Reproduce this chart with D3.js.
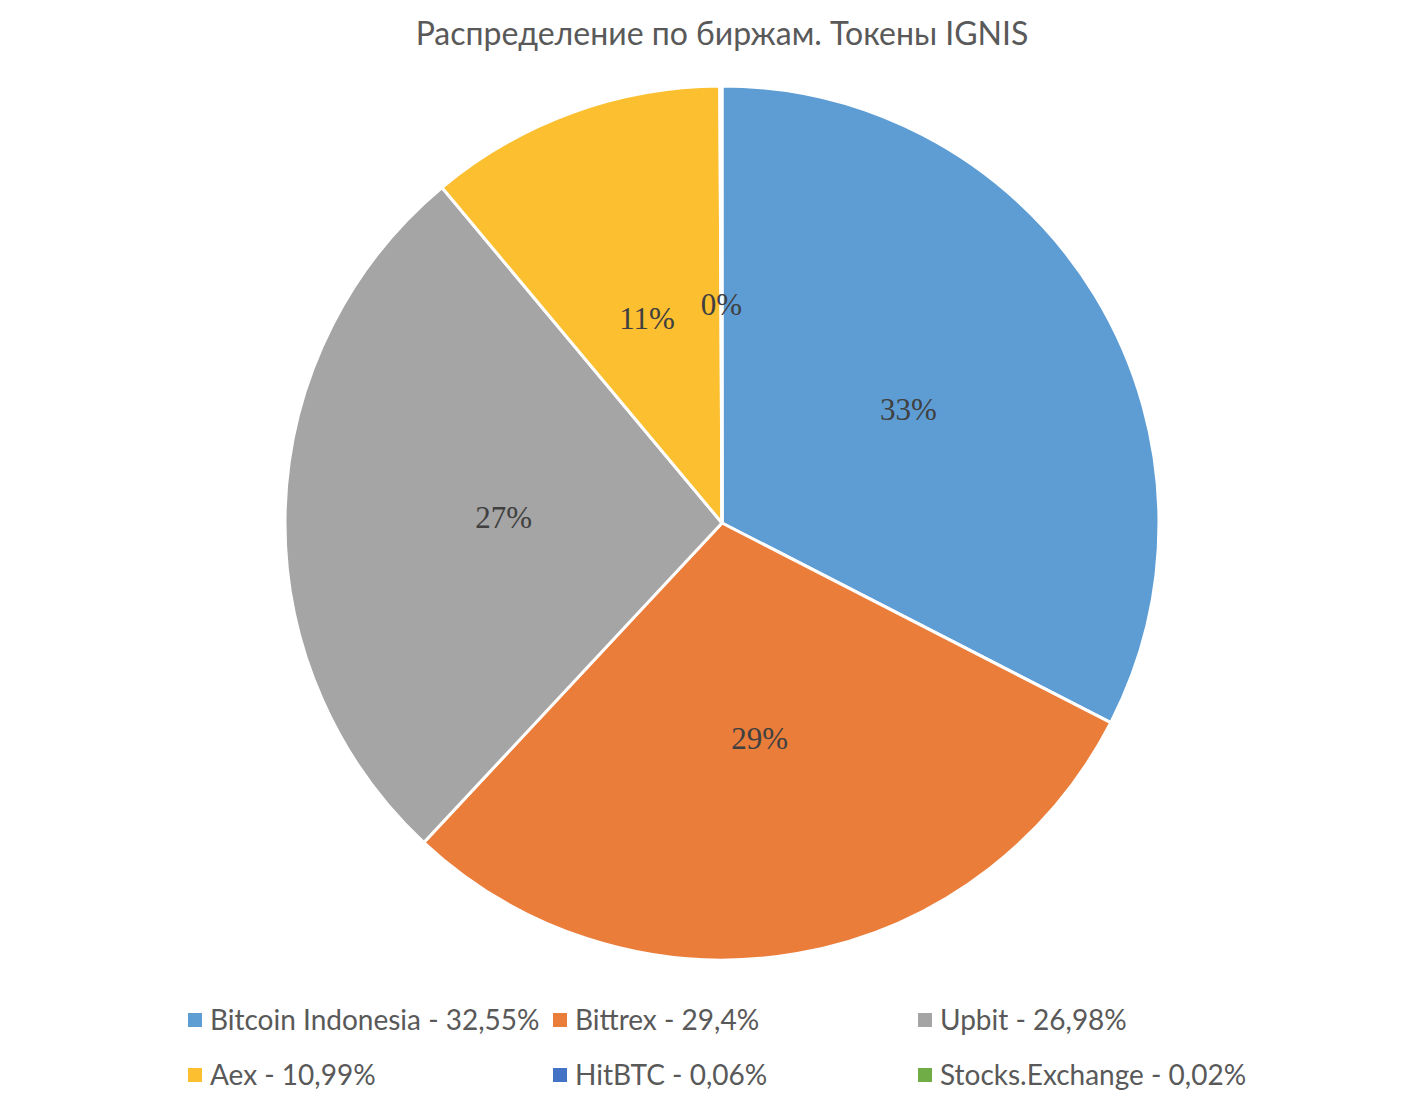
<!DOCTYPE html>
<html lang="ru">
  <head>
    <meta charset="utf-8">
    <title>IGNIS</title>
    <script src="https://cdn.jsdelivr.net/npm/d3@7"></script>
    <style>
      body { margin: 0; background: #fff; }
    </style>
  </head>
  <body>
    <script>
      var w = 1422;
      var h = 1104;
      var cx = 722, cy = 523, radius = 437;

      var titleText = "Распределение по биржам. Токены IGNIS";
      var exchanges = ["Bitcoin Indonesia", "Bittrex", "Upbit", "Aex", "HitBTC", "Stocks.Exchange"];
      var shares = [32.55, 29.4, 26.98, 10.99, 0.06, 0.02];
      var legendLabels = ["Bitcoin Indonesia - 32,55%", "Bittrex - 29,4%", "Upbit - 26,98%",
                          "Aex - 10,99%", "HitBTC - 0,06%", "Stocks.Exchange - 0,02%"];
      var colors = ["#5d9dd4", "#eb7d3b", "#a5a5a5", "#fbbf2f", "#4472c4", "#70ad47"];

      var dataset = exchanges.map(function (d, i) {
        return { name: d, value: shares[i], legend: legendLabels[i], color: colors[i] };
      });

      var svg = d3.select("body")
                  .append("svg")
                  .attr("width", w)
                  .attr("height", h);

      svg.append("text")
         .attr("x", cx)
         .attr("y", 45)
         .attr("text-anchor", "middle")
         .attr("font-family", "Lato, 'Open Sans', sans-serif")
         .attr("font-size", "32px")
         .attr("fill", "#595959")
         .text(titleText);

      var pie = d3.pie()
                  .sort(null)
                  .value(function (d) { return d.value; });

      var arc = d3.arc()
                  .innerRadius(0)
                  .outerRadius(radius);

      var labelArc = d3.arc()
                       .innerRadius(radius * 0.5)
                       .outerRadius(radius * 0.5);

      var g = svg.append("g")
                 .attr("transform", "translate(" + cx + "," + cy + ")");

      var arcs = pie(dataset);

      g.selectAll("path")
       .data(arcs)
       .enter()
       .append("path")
       .attr("d", arc)
       .attr("fill", function (d) { return d.data.color; })
       .attr("stroke", "#fff")
       .attr("stroke-width", 3)
       .attr("stroke-linejoin", "round");

      // the two tiny slices put their labels on the same spot, keep just one
      var shown = arcs.filter(function (d, i) {
        if (i === 0) return true;
        var a = labelArc.centroid(d), b = labelArc.centroid(arcs[i - 1]);
        return Math.abs(a[0] - b[0]) > 4 || Math.abs(a[1] - b[1]) > 4;
      });

      g.selectAll("text.pct")
       .data(shown)
       .enter()
       .append("text")
       .attr("class", "pct")
       .attr("transform", function (d) { return "translate(" + labelArc.centroid(d) + ")"; })
       .attr("text-anchor", "middle")
       .attr("dy", "0.35em")
       .attr("font-family", "'Liberation Serif', 'DejaVu Serif', serif")
       .attr("font-size", "31px")
       .attr("fill", "#404040")
       .text(function (d) { return Math.round(d.data.value) + "%"; });

      // legend, 3 columns x 2 rows
      var colX = [188, 553, 918];
      var rowY = [1020, 1075];

      var legend = svg.selectAll("g.legend")
                      .data(dataset)
                      .enter()
                      .append("g")
                      .attr("class", "legend")
                      .attr("transform", function (d, i) {
                        return "translate(" + colX[i % 3] + "," + rowY[Math.floor(i / 3)] + ")";
                      });

      legend.append("rect")
            .attr("x", 0)
            .attr("y", -7)
            .attr("width", 14)
            .attr("height", 14)
            .attr("fill", function (d) { return d.color; });

      legend.append("text")
            .attr("x", 22)
            .attr("dy", "0.35em")
            .attr("font-family", "Lato, 'Open Sans', sans-serif")
            .attr("font-size", "28px")
            .attr("fill", "#595959")
            .text(function (d) { return d.legend; });
    </script>
  </body>
</html>
